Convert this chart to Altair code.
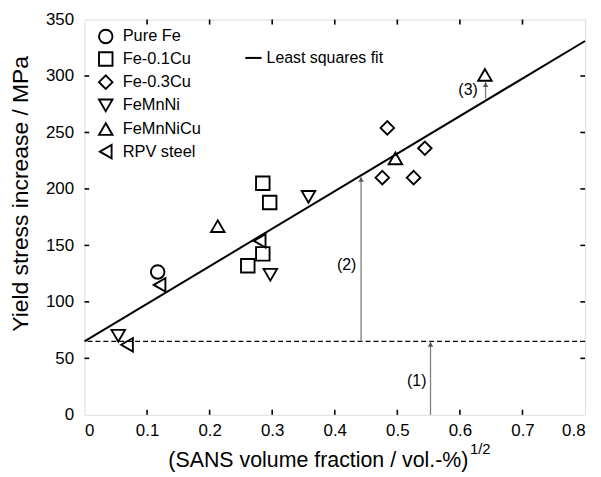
import altair as alt
import pandas as pd

# ---------------- data ----------------
series = ["Pure Fe", "Fe-0.1Cu", "Fe-0.3Cu", "FeMnNi", "FeMnNiCu", "RPV steel"]
shapes = ["circle", "square", "diamond", "triangle-down", "triangle-up", "triangle-left"]

pure_fe_x = [0.117]
pure_fe_y = [126.5]
fe01cu_x = [0.285, 0.296, 0.285, 0.261]
fe01cu_y = [205, 188, 142.5, 132]
fe03cu_x = [0.484, 0.544, 0.476, 0.526]
fe03cu_y = [254, 236, 210, 210]
femnni_x = [0.054, 0.297, 0.358]
femnni_y = [70, 124, 193]
femnnicu_x = [0.213, 0.497, 0.640]
femnnicu_y = [167, 227, 301]
rpv_x = [0.120, 0.068, 0.280]
rpv_y = [115, 62, 154]

fit_x = [0.0, 0.8]
fit_y = [65, 331]
baseline_y = 65

arrow_x = [0.553, 0.442, 0.641]
arrow_y0 = [0, 65, 280]
arrow_y1 = [65, 211, 295]
arrow_lbl = ["(1)", "(2)", "(3)"]
arrow_lbl_x = [0.531, 0.419, 0.613]
arrow_lbl_y = [30, 133, 288]

x_ticks = [0, 0.1, 0.2, 0.3, 0.4, 0.5, 0.6, 0.7, 0.8]
y_ticks = [0, 50, 100, 150, 200, 250, 300, 350]

legend_y = [335, 315, 294.5, 274, 253, 233]
legend_sym_x = 0.034
legend_txt_x = 0.061

FONT = "Liberation Sans"
XDOM = [0, 0.8]
YDOM = [0, 350]

# ---------------- tables ----------------
xs = [pure_fe_x, fe01cu_x, fe03cu_x, femnni_x, femnnicu_x, rpv_x]
ys = [pure_fe_y, fe01cu_y, fe03cu_y, femnni_y, femnnicu_y, rpv_y]
rows = []
for s, xx, yy in zip(series, xs, ys):
    for a, b in zip(xx, yy):
        rows.append({"series": s, "x": a, "y": b})
pts = pd.DataFrame(rows)

leg = pd.DataFrame({"series": series, "x": [legend_sym_x] * 6,
                    "tx": [legend_txt_x] * 6, "y": legend_y})
fit = pd.DataFrame({"x": fit_x, "y": fit_y})
arr = pd.DataFrame({"x": arrow_x, "y0": arrow_y0, "y1": arrow_y1})
arrlbl = pd.DataFrame({"x": arrow_lbl_x, "y": arrow_lbl_y, "t": arrow_lbl})

xsc = alt.Scale(domain=XDOM, nice=False, zero=False)
ysc = alt.Scale(domain=YDOM, nice=False, zero=False)
shape_scale = alt.Scale(domain=series, range=shapes)

xaxis = alt.Axis(values=x_ticks, format="~g", ticks=False, domain=False, grid=False,
                 labelFont=FONT, labelFontSize=17, labelColor="black", labelPadding=8,
                 title="(SANS volume fraction / vol.-%)", titleFont=FONT,
                 titleFontSize=21.5, titleFontWeight="normal", titleColor="black",
                 titleX=235, titleY=46, titleBaseline="middle", titleAlign="center")
yaxis = alt.Axis(values=y_ticks, ticks=False, domain=False, grid=False,
                 labelFont=FONT, labelFontSize=17, labelColor="black", labelPadding=11,
                 title="Yield stress increase / MPa", titleFont=FONT,
                 titleFontSize=23, titleFontWeight="normal", titleColor="black",
                 titleAngle=270, titleX=-64, titleY=175, titleBaseline="middle",
                 titleAlign="center")

# fit line (carries axes)
fit_line = alt.Chart(fit).mark_line(color="black", strokeWidth=2).encode(
    x=alt.X("x:Q", scale=xsc, axis=xaxis),
    y=alt.Y("y:Q", scale=ysc, axis=yaxis),
)

dashed = alt.Chart(pd.DataFrame({"y": [baseline_y]})).mark_rule(
    color="black", strokeWidth=1.4, strokeDash=[5, 3]
).encode(y=alt.Y("y:Q", scale=ysc))

points = alt.Chart(pts).mark_point(filled=False, color="black", opacity=1,
                                   strokeWidth=1.9, size=185).encode(
    x=alt.X("x:Q", scale=xsc),
    y=alt.Y("y:Q", scale=ysc),
    shape=alt.Shape("series:N", scale=shape_scale, legend=None),
)

arrow_lines = alt.Chart(arr).mark_rule(color="#7f7f7f", strokeWidth=1.3).encode(
    x=alt.X("x:Q", scale=xsc), y=alt.Y("y0:Q", scale=ysc), y2="y1:Q"
)
arrow_heads = alt.Chart(arr).mark_point(shape="triangle-up", filled=True, color="#555555",
                                        size=30, opacity=1, yOffset=3).encode(
    x=alt.X("x:Q", scale=xsc), y=alt.Y("y1:Q", scale=ysc)
)
arrow_text = alt.Chart(arrlbl).mark_text(font=FONT, fontSize=16, color="black",
                                         align="center", baseline="middle").encode(
    x=alt.X("x:Q", scale=xsc), y=alt.Y("y:Q", scale=ysc), text="t:N"
)

# legend
leg_sym = alt.Chart(leg).mark_point(filled=False, color="black", opacity=1,
                                    strokeWidth=1.9, size=185).encode(
    x=alt.X("x:Q", scale=xsc), y=alt.Y("y:Q", scale=ysc),
    shape=alt.Shape("series:N", scale=shape_scale, legend=None),
)
leg_txt = alt.Chart(leg).mark_text(font=FONT, fontSize=16.5, color="black",
                                   align="left", baseline="middle").encode(
    x=alt.X("tx:Q", scale=xsc), y=alt.Y("y:Q", scale=ysc), text="series:N"
)
fit_leg = pd.DataFrame({"x": [0.257], "x2": [0.283], "y": [316], "tx": [0.291],
                        "t": ["Least squares fit"]})
fit_leg_line = alt.Chart(fit_leg).mark_rule(color="black", strokeWidth=2).encode(
    x=alt.X("x:Q", scale=xsc), x2="x2:Q", y=alt.Y("y:Q", scale=ysc)
)
fit_leg_txt = alt.Chart(fit_leg).mark_text(font=FONT, fontSize=16, color="black",
                                           align="left", baseline="middle").encode(
    x=alt.X("tx:Q", scale=xsc), y=alt.Y("y:Q", scale=ysc), text="t:N"
)

# superscript of x title
sup = alt.Chart(pd.DataFrame({"x": [0.616], "y": [-30], "t": ["1/2"]})).mark_text(
    font=FONT, fontSize=15, color="black", align="left", baseline="middle"
).encode(x=alt.X("x:Q", scale=xsc), y=alt.Y("y:Q", scale=ysc), text="t:N")

# inward ticks on all four sides
xt_in = [v for v in x_ticks if 0 < v < 0.8]
yt_in = [v for v in y_ticks if 0 < v < 350]
tb = pd.DataFrame({"x": xt_in * 2,
                   "y": [0] * len(xt_in) + [350] * len(xt_in),
                   "y2": [4.5] * len(xt_in) + [345.5] * len(xt_in)})
lr = pd.DataFrame({"y": yt_in * 2,
                   "x": [0] * len(yt_in) + [0.8] * len(yt_in),
                   "x2": [0.0075] * len(yt_in) + [0.7925] * len(yt_in)})
ticks_tb = alt.Chart(tb).mark_rule(color="black", strokeWidth=1.6).encode(
    x=alt.X("x:Q", scale=xsc), y=alt.Y("y:Q", scale=ysc), y2="y2:Q")
ticks_lr = alt.Chart(lr).mark_rule(color="black", strokeWidth=1.6).encode(
    x=alt.X("x:Q", scale=xsc), x2="x2:Q", y=alt.Y("y:Q", scale=ysc))

chart = alt.layer(
    fit_line, dashed, arrow_lines, arrow_heads, arrow_text, points,
    leg_sym, leg_txt, fit_leg_line, fit_leg_txt, sup, ticks_tb, ticks_lr
).properties(
    width=504, height=398,
    autosize=alt.AutoSizeParams(type="none"),
    padding={"left": 77, "top": 10, "right": 8, "bottom": 60},
).configure_view(stroke="black", strokeWidth=2).configure(background="white")

chart.save("out.html", embed_options={"renderer": "svg", "actions": False})
